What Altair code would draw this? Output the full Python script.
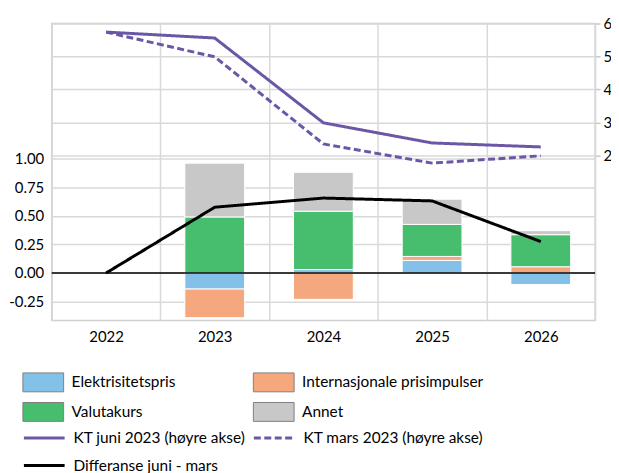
import altair as alt
import pandas as pd

# ---- data ----
years = ["2022", "2023", "2024", "2025", "2026"]
components = ["Elektrisitetspris", "Internasjonale prisimpulser", "Valutakurs", "Annet"]
elektrisitetspris = [0.0, -0.14, 0.03, 0.11, -0.10]
internasjonale = [0.0, -0.25, -0.23, 0.035, 0.055]
valutakurs = [0.0, 0.49, 0.51, 0.28, 0.28]
annet = [0.0, 0.47, 0.34, 0.22, 0.035]

series_names = ["KT juni 2023 (høyre akse)", "KT mars 2023 (høyre akse)", "Differanse juni - mars"]
kt_juni = [5.74, 5.56, 2.99, 2.38, 2.26]
kt_mars = [5.74, 4.99, 2.35, 1.77, 1.99]
differanse = [0.0, 0.575, 0.655, 0.63, 0.275]

left_ticks = [-0.25, 0.0, 0.25, 0.5, 0.75, 1.0]
right_ticks = [2, 3, 4, 5, 6]

comp_colors = ["#83c1e8", "#f5a77e", "#46be6e", "#c8c8c8"]
purple = "#6b57a6"

# ---- tables ----
bar_rows = []
for ci, (name, vals) in enumerate(zip(components, [elektrisitetspris, internasjonale, valutakurs, annet])):
    for y, v in zip(years, vals):
        if v != 0:
            bar_rows.append({"year": y, "komponent": name, "value": v, "ord": ci})
bars_df = pd.DataFrame(bar_rows)

kt_df = pd.DataFrame(
    [{"year": y, "series": series_names[0], "value": v} for y, v in zip(years, kt_juni)]
    + [{"year": y, "series": series_names[1], "value": v} for y, v in zip(years, kt_mars)]
)
diff_df = pd.DataFrame([{"year": y, "series": series_names[2], "value": v} for y, v in zip(years, differanse)])
zero_df = pd.DataFrame({"value": [0.0]})

# ---- scales / axes ----
grid_col = "#d9d9d9"
x_scale = alt.Scale(domain=years, paddingInner=0, paddingOuter=0)
x_axis = alt.Axis(title=None, labelAngle=0, ticks=False, tickSize=0, domain=False, grid=True,
                  gridColor=grid_col, gridWidth=1.5, tickBand="extent", labelPadding=9)
left_scale = alt.Scale(domain=[-0.415, 2.18], nice=False, zero=False)
left_axis = alt.Axis(title=None, values=left_ticks, ticks=False, tickSize=0, domain=False,
                     grid=True, gridColor=grid_col, gridWidth=1.5, labelPadding=8,
                     labelExpr="(datum.value < 0 ? '-' : '') + format(abs(datum.value), '.2f')")
right_scale = alt.Scale(domain=[-3, 6], nice=False, zero=False)
right_axis = alt.Axis(title=None, orient="right", values=right_ticks, format="d", grid=True,
                      gridColor=grid_col, gridWidth=1.5, ticks=True, tickSize=5,
                      tickColor="#c8c8c8", tickWidth=1.5, domain=False, labelPadding=3)

stroke_scale = alt.Scale(domain=series_names, range=[purple, purple, "#000000"])
dash_scale = alt.Scale(domain=series_names, range=[[1, 0], [7, 3.5], [1, 0]])
width_scale = alt.Scale(domain=series_names, range=[3, 3, 1.7])

line_legend = alt.Legend(
    title=None, orient="none", legendX=-18.5, legendY=406, columns=2, direction="horizontal",
    columnPadding=1.5, symbolType="M-2.158,0L2.158,0", symbolSize=361, labelOffset=18.5, rowPadding=8,
)
fill_legend = alt.Legend(
    title=None, orient="none", legendX=-18.5, legendY=351, columns=2, direction="horizontal",
    columnPadding=75, symbolType="M-2.158,-1L2.158,-1L2.158,1L-2.158,1Z", symbolSize=361,
    symbolStrokeColor="#7f7f7f", symbolStrokeWidth=1, labelOffset=18.5, rowPadding=6,
)

x_enc = alt.X("year:N", scale=x_scale, axis=x_axis)

bars = alt.Chart(bars_df).mark_bar(stroke="#ffffff", strokeWidth=1, width=alt.RelativeBandSize(0.55)).encode(
    x=x_enc,
    y=alt.Y("value:Q", scale=left_scale, stack="zero", axis=left_axis),
    fill=alt.Fill("komponent:N", scale=alt.Scale(domain=components, range=comp_colors), legend=fill_legend),
    order=alt.Order("ord:Q"),
)

zero_rule = alt.Chart(zero_df).mark_rule(color="#000000", strokeWidth=1.5).encode(
    y=alt.Y("value:Q", scale=left_scale, axis=left_axis)
)

diff_line = alt.Chart(diff_df).mark_line().encode(
    x=x_enc,
    y=alt.Y("value:Q", scale=left_scale, axis=left_axis),
    stroke=alt.Stroke("series:N", scale=stroke_scale, legend=line_legend),
    strokeDash=alt.StrokeDash("series:N", scale=dash_scale, legend=line_legend),
    strokeWidth=alt.StrokeWidth("series:N", scale=width_scale, legend=line_legend),
)

left = alt.layer(bars, zero_rule, diff_line)

kt_lines = alt.Chart(kt_df).mark_line().encode(
    x=x_enc,
    y=alt.Y("value:Q", scale=right_scale, axis=right_axis),
    stroke=alt.Stroke("series:N", scale=stroke_scale, legend=line_legend),
    strokeDash=alt.StrokeDash("series:N", scale=dash_scale, legend=line_legend),
    strokeWidth=alt.StrokeWidth("series:N", scale=width_scale, legend=line_legend),
)

chart = (
    alt.layer(left, kt_lines)
    .resolve_scale(y="independent")
    .properties(
        width=547, height=299,
        autosize=alt.AutoSizeParams(type="none"),
        padding={"left": 44, "top": 14, "right": 16, "bottom": 170},
    )
    .configure(font="Lato")
    .configure_view(stroke="#cfcfcf", strokeWidth=1.5)
    .configure_axis(labelFont="Lato", labelFontSize=15, labelColor="#000000")
    .configure_legend(labelFont="Lato", labelFontSize=15.5, labelColor="#000000", labelLimit=400)
)

chart.save("out.html", embed_options={"renderer": "svg", "actions": False})
